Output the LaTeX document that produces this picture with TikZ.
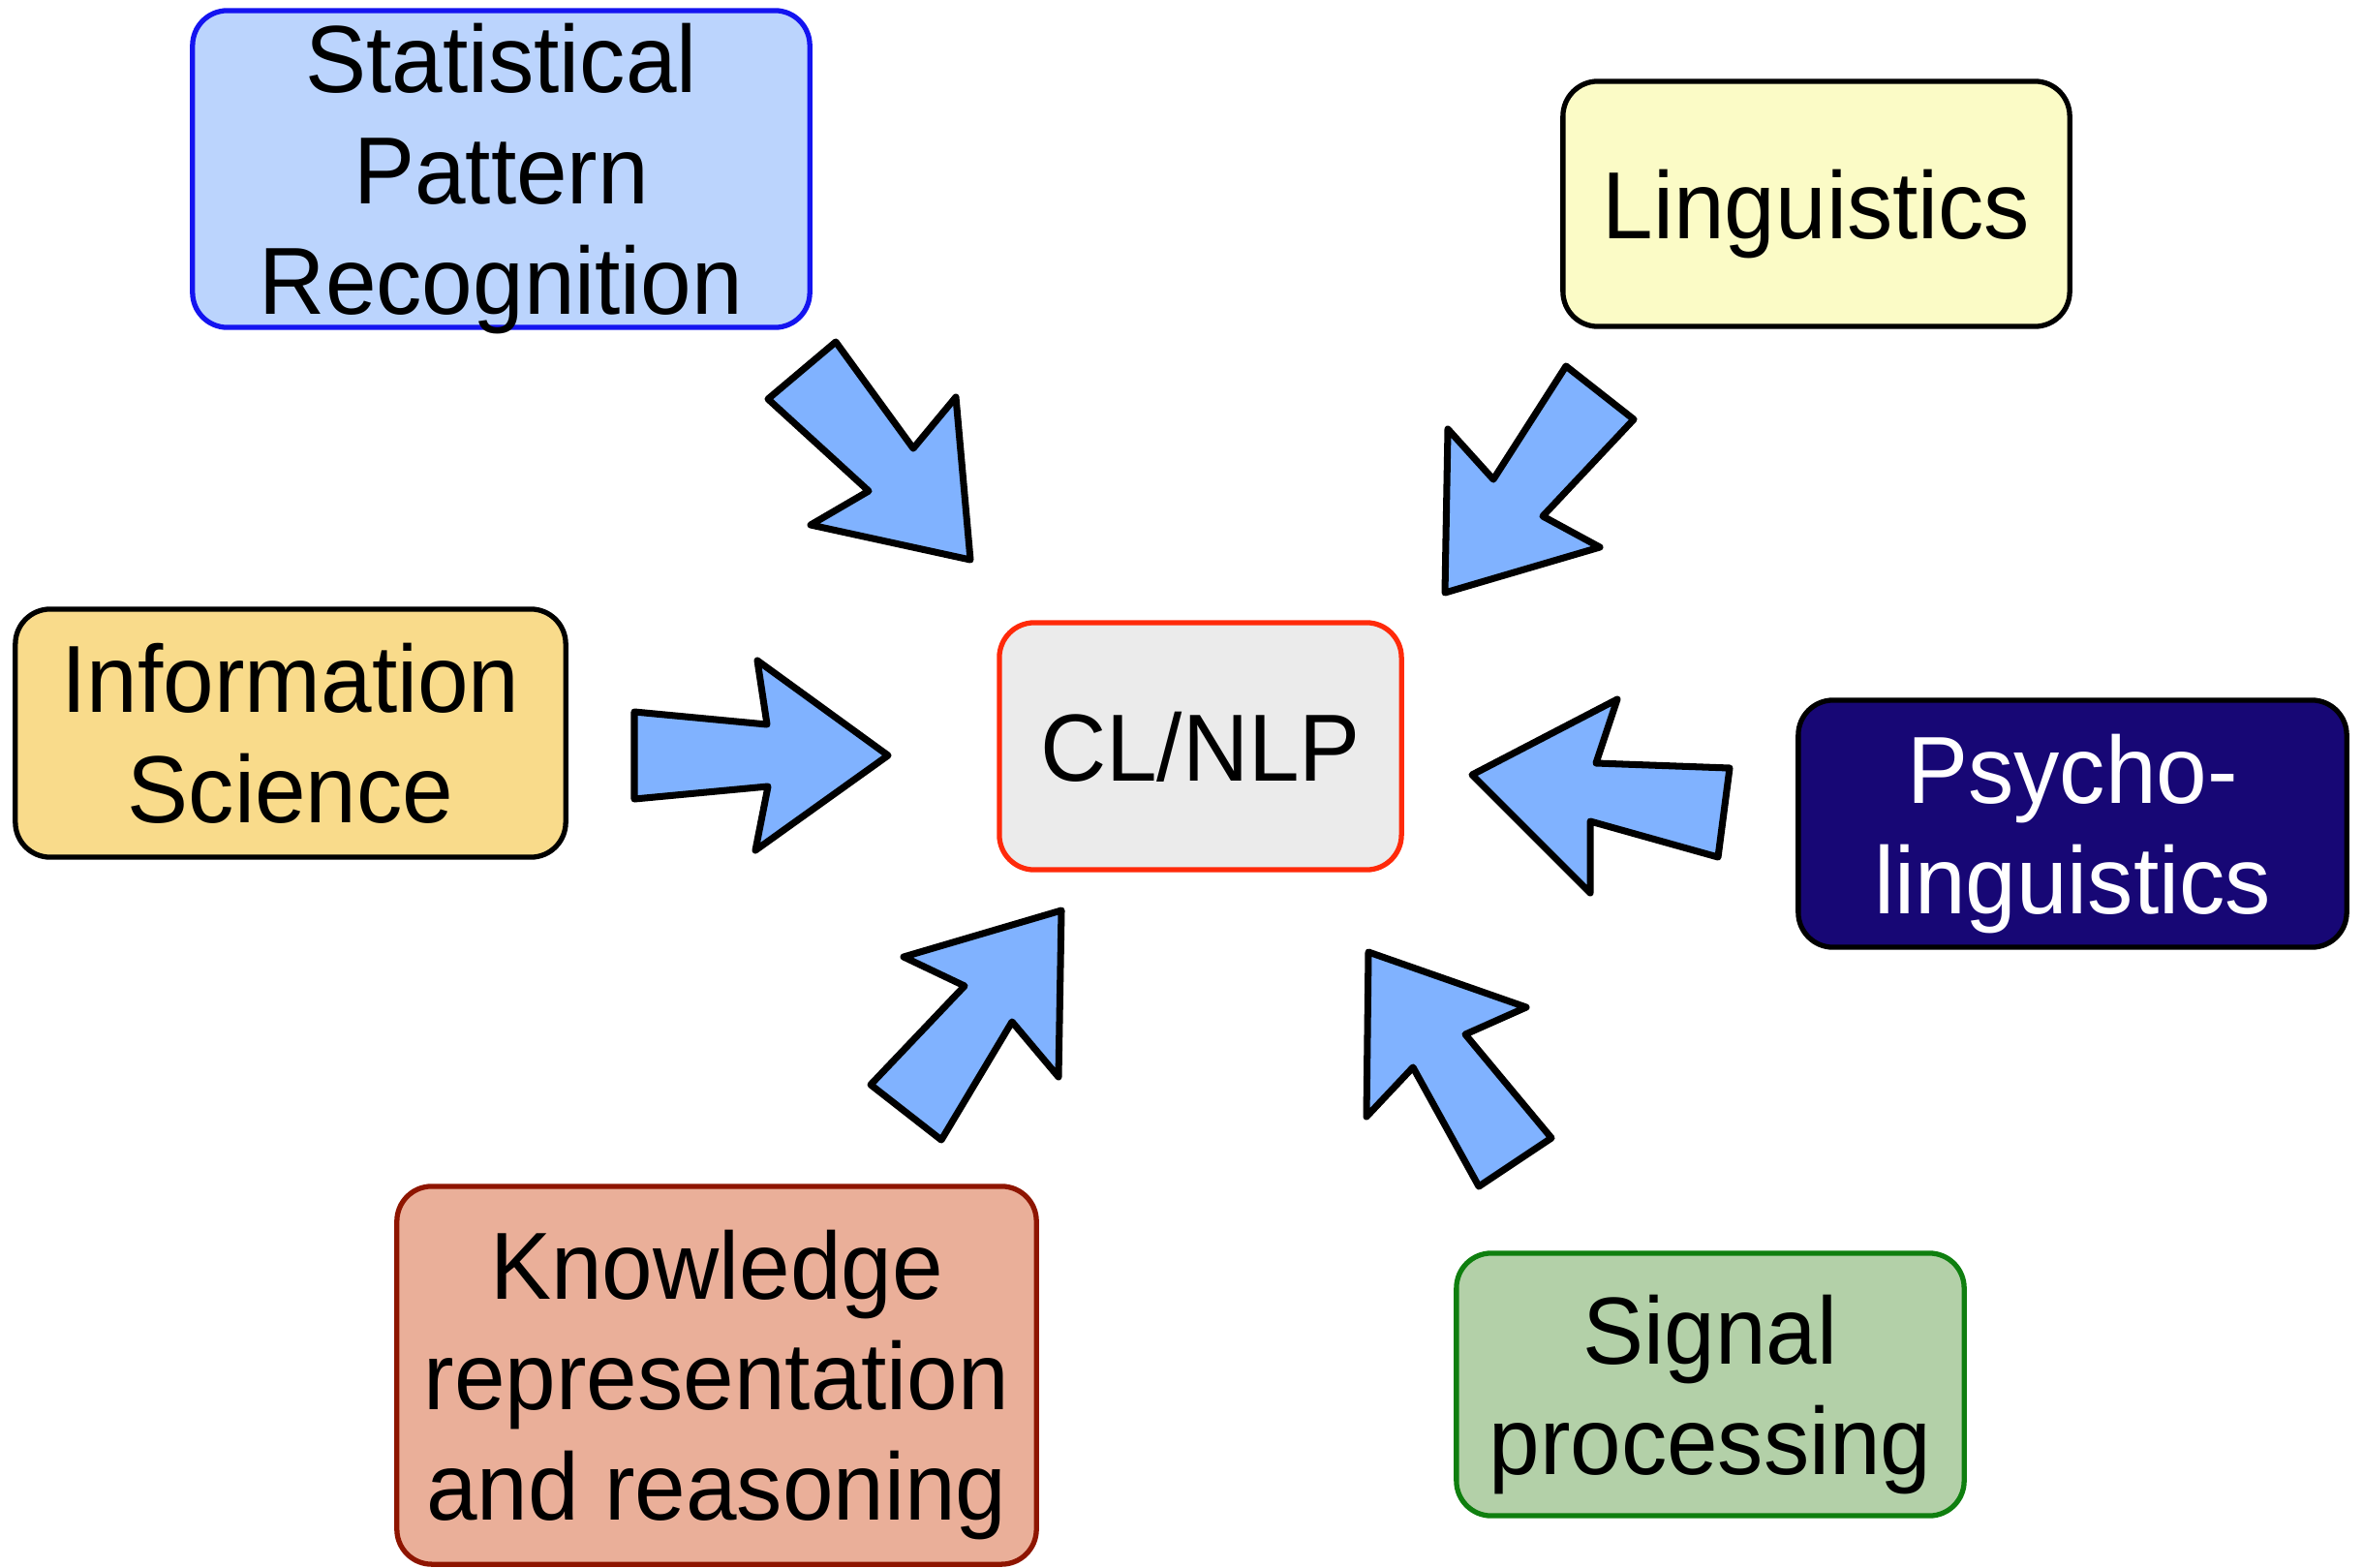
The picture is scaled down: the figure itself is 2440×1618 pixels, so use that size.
\documentclass[tikz,border=0pt]{standalone}
\usepackage{fontspec}
\setmainfont{Liberation Sans}[FakeStretch=0.96]
\usepackage{tikz}
\usepackage{xcolor}
\definecolor{clblue}{HTML}{1414F0}
\definecolor{clsky}{HTML}{BBD4FD}
\definecolor{cllemon}{HTML}{FBFBC6}
\definecolor{clsand}{HTML}{F9DB8B}
\definecolor{clred}{HTML}{FF2A0A}
\definecolor{clgray}{HTML}{EBEBEB}
\definecolor{clnavy}{HTML}{170775}
\definecolor{clbrick}{HTML}{8E1500}
\definecolor{clsalmon}{HTML}{EAAF99}
\definecolor{clgreen}{HTML}{0F7F0F}
\definecolor{clsage}{HTML}{B3D0A8}
\definecolor{clarrowfill}{HTML}{80B2FF}
\tikzset{
  clbox/.style={draw=black, line width=1.5pt, rounded corners=0.36cm, align=center,
    inner sep=0pt, text depth=0pt, font=\fontsize{28}{32.5}\selectfont},
  clarrow/.style={draw=black, fill=clarrowfill, line width=2pt, line join=round}
}

\begin{document}
\begin{tikzpicture}[x=0.01cm, y=-0.01cm]
\useasboundingbox (0,0) rectangle (2440,1618);
\node[clbox, draw=clred, fill=clgray, minimum width=4.15cm, minimum height=2.55cm] (clnlp) at (1239.5,770.5) {CL/NLP};
\node[clbox, draw=clblue, fill=clsky, minimum width=6.37cm, minimum height=3.27cm] (spr) at (517.5,174.5) {Statistical\\Pattern\\Recognition};
\node[clbox, fill=cllemon, minimum width=5.23cm, minimum height=2.53cm] (ling) at (1875.5,210.5) {Linguistics};
\node[clbox, fill=clsand, minimum width=5.68cm, minimum height=2.56cm] (info) at (300,757) {Information\\Science};
\node[clbox, fill=clnavy, text=white, minimum width=5.66cm, minimum height=2.55cm] (psy) at (2140,850.5) {Psycho-\\linguistics};
\node[clbox, draw=clbrick, fill=clsalmon, minimum width=6.6cm, minimum height=3.9cm] (krr) at (740,1420) {Knowledge\\representation\\and reasoning};
\node[clbox, draw=clgreen, fill=clsage, minimum width=5.24cm, minimum height=2.71cm] (sig) at (1766,1429.5) {Signal\\processing};
\draw[clarrow] (863,353) -- (793,412) -- (897,507) -- (837,542) -- (1002,578) -- (987,410) -- (943,463) -- cycle;
\draw[clarrow] (1617,378) -- (1687,433) -- (1593,533) -- (1652,565) -- (1492,612) -- (1495,443) -- (1542,495) -- cycle;
\draw[clarrow] (655,735) -- (792,748) -- (782,682) -- (917,780) -- (780,878) -- (793,812) -- (655,825) -- cycle;
\draw[clarrow] (1786,793) -- (1648,788) -- (1670,722) -- (1520,800) -- (1642,922) -- (1642,848) -- (1774,885) -- cycle;
\draw[clarrow] (972,1177) -- (1045,1055) -- (1093,1112) -- (1096,940) -- (933,988) -- (996,1018) -- (899,1120) -- cycle;
\draw[clarrow] (1527,1225) -- (1459,1102) -- (1411,1153) -- (1413,983) -- (1576,1040) -- (1513,1068) -- (1602,1175) -- cycle;
\end{tikzpicture}
\end{document}
